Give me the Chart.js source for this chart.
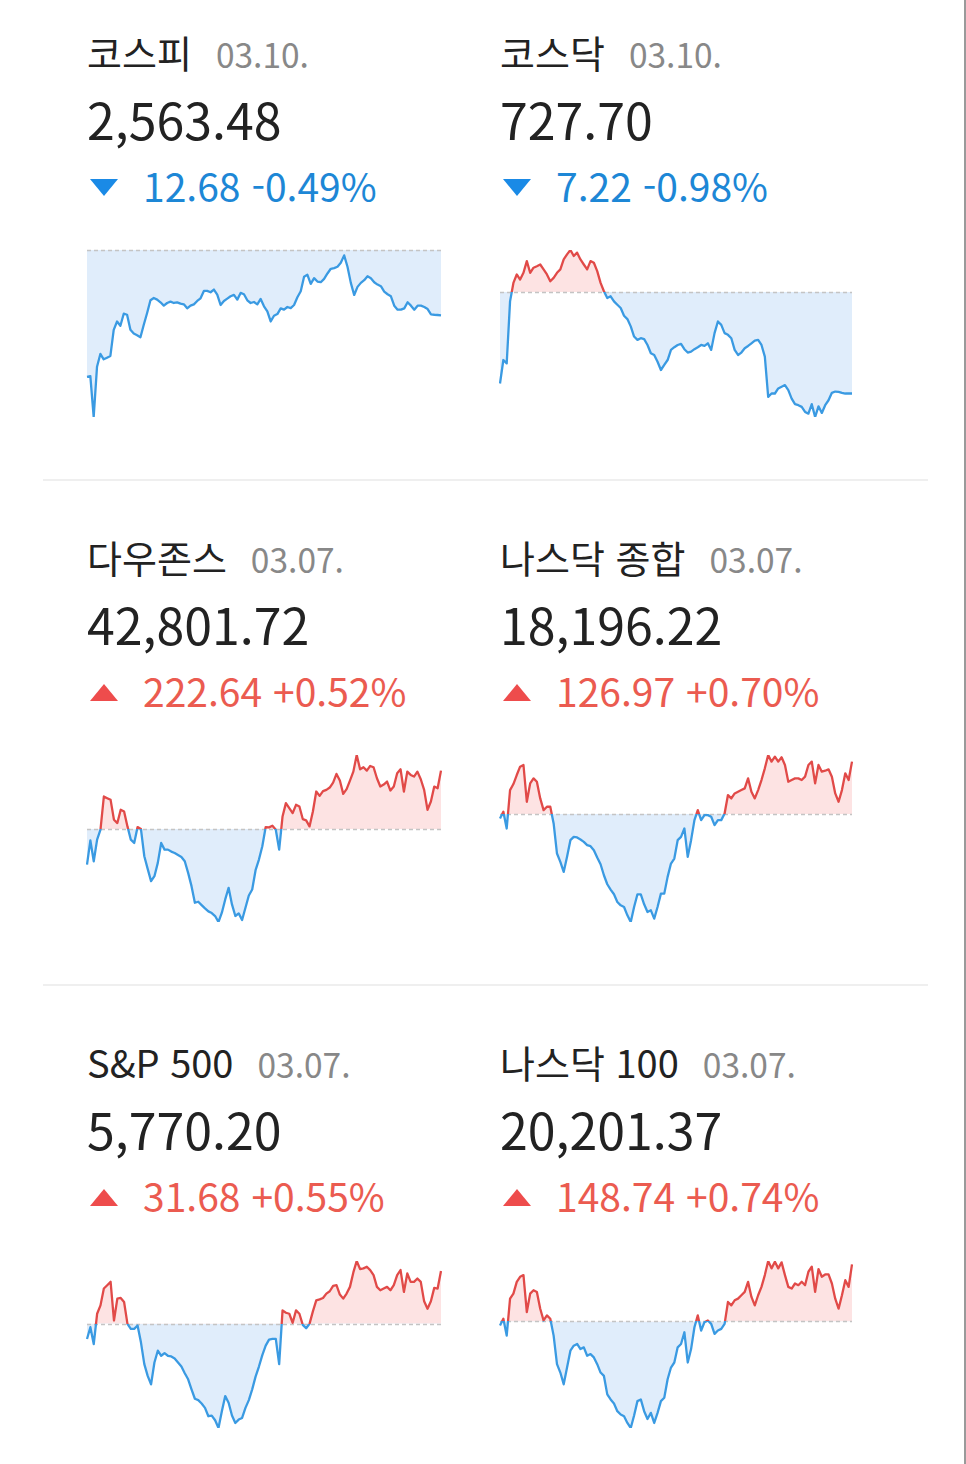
<!DOCTYPE html>
<html lang="ko">
<head>
<meta charset="utf-8">
<script src="https://cdn.jsdelivr.net/npm/chart.js@4.4.1/dist/chart.umd.min.js"></script>
<style>
html,body{margin:0;padding:0;background:#fff;}
body{width:966px;height:1464px;position:relative;overflow:hidden;font-family:"Noto Sans CJK KR","Noto Sans",sans-serif;}
.edge{position:absolute;left:964px;top:0;width:2px;height:1464px;background:#9a9a9a;}
.divider{position:absolute;left:43px;width:885px;height:2px;background:#efefef;}
.card{position:absolute;width:420px;height:200px;}
.title{position:absolute;left:0;top:0;white-space:nowrap;font-size:38px;line-height:38px;color:#222;}
.date{font-size:33.5px;color:#888;margin-left:24px;}
.value{position:absolute;left:0;top:60px;font-size:50px;line-height:50px;color:#222;white-space:nowrap;}
.change{position:absolute;left:56px;top:133px;font-size:39px;line-height:39px;white-space:nowrap;}
.down .change{color:#1d87d6;}
.up .change{color:#eb5b50;}
.tri{position:absolute;left:3px;top:146px;width:0;height:0;border-left:14px solid transparent;border-right:14px solid transparent;}
.down .tri{border-top:17px solid #1a8ae6;}
.up .tri{border-bottom:17px solid #ee4c4c;}
.chartbox{position:absolute;}
</style>
</head>
<body>
<div class="edge"></div>
<div class="divider" style="top:479px"></div>
<div class="divider" style="top:984px"></div>
<div id="root"></div>
<script>
// ---- text data ----
const names = ["코스피", "코스닥", "다우존스", "나스닥 종합", "S&P 500", "나스닥 100"];
const dates = ["03.10.", "03.10.", "03.07.", "03.07.", "03.07.", "03.07."];
const prices = ["2,563.48", "727.70", "42,801.72", "18,196.22", "5,770.20", "20,201.37"];
const changes = ["12.68", "7.22", "222.64", "126.97", "31.68", "148.74"];
const changePcts = ["-0.49%", "-0.98%", "+0.52%", "+0.70%", "+0.55%", "+0.74%"];
const directions = ["down", "down", "up", "up", "up", "up"];

// ---- intraday change vs previous close (points) ----
const kospiValues = [
-24.57,-24.44,-32.37,-22.62,-20.15,-21.19,-20.87,-20.54,-15.47,-13.85,
-14.69,-12.35,-12.55,-15.47,-16.19,-16.51,-16.90,-14.50,-12.22,-9.75,
-9.30,-9.62,-10.14,-10.79,-10.27,-10.01,-10.27,-10.14,-10.40,-10.53,
-11.31,-10.79,-10.53,-9.88,-9.36,-7.93,-7.93,-8.19,-7.67,-8.65,
-10.66,-9.88,-9.43,-8.97,-8.71,-9.62,-8.32,-8.58,-9.75,-10.27,
-10.08,-10.53,-9.49,-10.92,-11.90,-13.85,-12.74,-12.42,-11.31,-11.57,
-11.05,-11.25,-10.66,-9.17,-8.00,-5.20,-4.81,-6.57,-5.46,-6.11,
-6.24,-5.59,-4.55,-3.64,-3.51,-3.25,-2.47,-1.04,-3.25,-6.37,
-8.71,-7.15,-6.37,-5.85,-5.07,-5.46,-6.24,-6.70,-7.02,-8.06,
-8.58,-8.97,-10.79,-11.57,-11.57,-11.31,-10.14,-10.79,-11.57,-10.79,
-10.79,-11.05,-11.44,-12.48,-12.55,-12.60,-12.68];

const kosdaqValues = [
-6.51,-4.84,-5.08,-0.67,0.64,1.24,0.88,1.36,2.19,1.36,
1.72,1.83,1.95,1.60,1.24,0.76,1.00,1.36,1.60,2.31,
2.67,2.98,2.55,2.79,2.31,1.95,1.60,2.19,2.07,1.48,
0.64,0.05,-0.43,-0.31,-0.67,-0.91,-1.14,-1.69,-1.93,-2.45,
-3.17,-3.41,-3.29,-3.36,-3.77,-4.36,-4.48,-4.96,-5.55,-5.19,
-4.84,-4.12,-3.93,-3.77,-3.69,-4.07,-4.31,-4.24,-4.07,-3.93,
-3.77,-3.84,-3.65,-4.12,-2.93,-2.10,-2.34,-2.93,-3.05,-3.29,
-4.12,-4.48,-4.31,-4.00,-3.84,-3.65,-3.46,-3.41,-3.77,-4.60,
-7.46,-7.22,-7.22,-6.86,-6.74,-6.62,-6.98,-7.58,-7.98,-8.05,
-8.17,-8.53,-8.65,-7.98,-8.89,-8.13,-8.60,-8.05,-7.70,-7.17,
-7.08,-7.10,-7.17,-7.22,-7.22,-7.22];

const dowValues = [
-135.4,-43.0,-122.7,-40.5,-2.5,124.0,117.6,111.3,35.4,22.8,
73.4,67.0,10.1,-40.5,-53.1,7.6,0,-103.7,-151.8,-198.6,
-179.6,-129.0,-53.1,-78.4,-78.4,-86.0,-91.1,-98.7,-106.3,-122.7,
-167.0,-217.6,-280.8,-277.0,-289.7,-302.3,-313.7,-320.0,-331.4,-354.2,
-318.8,-268.2,-223.9,-287.2,-331.4,-321.3,-346.6,-299.8,-253.0,-230.2,
-156.9,-116.4,-65.8,7.6,6.3,12.7,-2.5,-78.4,48.1,98.7,
79.7,60.7,92.3,86.0,38.0,32.9,10.1,67.0,142.9,126.5,
144.2,149.3,158.1,177.1,210.0,184.7,134.1,151.8,184.7,218.8,
282.1,227.7,235.3,222.6,240.4,235.3,193.5,161.9,169.5,180.9,
146.7,161.9,212.5,227.7,142.9,218.8,206.2,199.9,218.8,189.8,
149.3,73.4,105.0,161.9,155.6,222.64];

const nasdaqValues = [
-10.5,5.7,-34.8,58.2,72.8,94.6,114.8,118.9,29.9,74.4,
86.5,78.4,38.0,9.7,17.8,17.8,-22.6,-95.4,-115.6,-139.9,
-103.5,-63.1,-55.0,-56.6,-61.5,-67.1,-75.2,-77.6,-87.3,-105.1,
-121.3,-148.0,-169.8,-182.8,-194.1,-212.7,-220.8,-224.8,-245.0,-261.2,
-224.8,-194.1,-194.1,-218.3,-236.9,-232.9,-253.1,-224.8,-192.5,-192.5,
-152.0,-119.7,-107.6,-63.1,-55.0,-34.8,-103.5,-63.1,-14.6,9.7,
-14.6,-2.4,-2.4,-6.5,-26.7,-14.6,-14.6,1.6,46.1,38.0,
50.1,54.2,58.2,62.3,86.5,54.2,38.0,58.2,82.5,110.8,
143.1,127.0,139.1,127.0,137.5,118.9,78.4,82.5,86.5,86.5,
82.5,90.6,118.9,127.0,74.4,118.9,102.7,105.1,108.4,90.6,
50.1,29.9,58.2,98.7,82.5,126.97];

const sp500Values = [
-9.08,-2.02,-12.11,6.05,11.10,21.19,23.21,25.23,2.02,15.14,
15.54,13.12,0,-3.03,-3.03,-1.01,-11.10,-24.22,-31.28,-36.32,
-23.21,-16.14,-19.17,-17.56,-19.17,-19.57,-20.79,-23.21,-25.63,-29.66,
-33.30,-39.35,-45.00,-45.81,-47.83,-50.45,-55.50,-55.09,-57.92,-62.56,
-52.47,-43.39,-47.42,-55.09,-59.53,-57.51,-56.50,-50.45,-45.81,-39.35,
-31.68,-25.63,-18.77,-13.12,-9.48,-9.08,-9.08,-24.22,8.07,6.66,
6.05,0.61,8.07,6.05,-0.61,-2.62,0,7.47,14.13,14.73,
15.54,18.16,19.57,22.80,23.21,17.56,15.14,18.16,22.20,30.88,
37.74,32.89,33.30,34.31,32.29,29.26,22.20,20.18,21.19,22.20,
20.18,23.21,29.26,32.29,19.17,30.27,25.23,25.23,27.24,25.23,
13.52,9.08,13.52,21.59,21.19,31.68];

const nasdaq100Values = [
-10.5,7.0,-36.8,59.5,72.6,103.3,116.4,120.8,24.5,72.6,
81.4,77.0,33.3,2.6,15.8,7.0,-36.8,-111.1,-133.0,-163.6,
-119.9,-76.1,-63.0,-58.6,-71.8,-67.4,-89.3,-84.9,-93.6,-111.1,
-133.0,-141.8,-189.9,-203.0,-213.5,-233.6,-242.4,-246.8,-264.3,-277.4,
-245.0,-207.4,-203.0,-233.6,-253.8,-238.0,-264.3,-238.0,-207.4,-198.6,
-150.5,-119.9,-106.8,-67.4,-58.6,-28.0,-106.8,-71.8,-14.9,15.8,
-23.6,-1.8,2.6,-6.1,-32.4,-23.6,-19.3,-6.1,50.8,42.0,
55.1,59.5,68.3,77.0,103.3,63.9,42.0,68.3,90.1,120.8,
157.5,138.3,155.8,138.3,154.0,120.8,90.1,85.8,98.9,94.5,
103.3,94.5,129.5,142.6,77.0,136.5,116.4,122.5,122.5,98.9,
59.5,33.3,68.3,107.6,90.1,148.74];

const seriesList = [kospiValues, kosdaqValues, dowValues, nasdaqValues, sp500Values, nasdaq100Values];

// ---- layout (styles only) ----
const colLeft = [87, 500];
const colChart = [[87, 354], [500, 352]];
const rowTop = [33, 538, 1043];
const rowChartTop = [250, 755, 1261];
const chartH = 167;
const PAD = 4;

const RED_LINE = '#e14a48', BLUE_LINE = '#3a9ae2';
const RED_FILL = '#fde3e3', BLUE_FILL = '#e0edfb';

const prevClosePlugin = {
  id: 'prevClose',
  beforeDatasetDraw(chart) {
    const {ctx, chartArea, scales} = chart;
    const py = Math.round(scales.y.getPixelForValue(0)) + 0.5;
    ctx.save();
    ctx.strokeStyle = '#c4c4c4';
    ctx.lineWidth = 1.5;
    ctx.setLineDash([4, 3]);
    ctx.beginPath();
    ctx.moveTo(chartArea.left, py);
    ctx.lineTo(chartArea.right, py);
    ctx.stroke();
    ctx.restore();
  }
};

function splitColor(context) {
  const chart = context.chart;
  const {ctx, chartArea, scales} = chart;
  if (!chartArea || !scales.y) return BLUE_LINE;
  const y0 = scales.y.getPixelForValue(0);
  const top = chartArea.top - 5, bottom = chartArea.bottom + 5;
  let f = (y0 - top) / (bottom - top);
  f = Math.max(0, Math.min(1, f));
  const g = ctx.createLinearGradient(0, top, 0, bottom);
  g.addColorStop(0, RED_LINE);
  g.addColorStop(f, RED_LINE);
  g.addColorStop(f, BLUE_LINE);
  g.addColorStop(1, BLUE_LINE);
  return g;
}

const root = document.getElementById('root');
const charts = [];
names.forEach((name, i) => {
  const col = i % 2, row = Math.floor(i / 2);
  const card = document.createElement('div');
  card.className = 'card ' + directions[i];
  card.style.left = colLeft[col] + 'px';
  card.style.top = rowTop[row] + 'px';
  card.innerHTML =
    '<div class="title">' + name.replace('&', '&amp;') + '<span class="date">' + dates[i] + '</span></div>' +
    '<div class="value">' + prices[i] + '</div>' +
    '<div class="tri"></div>' +
    '<div class="change">' + changes[i] + ' ' + changePcts[i] + '</div>';
  root.appendChild(card);

  const box = document.createElement('div');
  box.className = 'chartbox';
  const [cl, cw] = colChart[col];
  box.style.left = (cl - PAD) + 'px';
  box.style.top = (rowChartTop[row] - PAD) + 'px';
  box.style.width = (cw + 2 * PAD) + 'px';
  box.style.height = (chartH + 2 * PAD) + 'px';
  const canvas = document.createElement('canvas');
  box.appendChild(canvas);
  root.appendChild(box);

  const values = seriesList[i];
  const labels = values.map((_, k) => k);
  const ch = new Chart(canvas, {
    type: 'line',
    data: {
      labels: labels,
      datasets: [{
        label: name,
        data: values,
        borderColor: splitColor,
        borderWidth: 2.3,
        pointRadius: 0,
        tension: 0,
        borderJoinStyle: 'round',
        fill: { target: { value: 0 }, above: RED_FILL, below: BLUE_FILL }
      }]
    },
    options: {
      responsive: true,
      maintainAspectRatio: false,
      animation: false,
      events: [],
      layout: { padding: PAD },
      scales: {
        x: { type: 'category', display: false, offset: false, grid: { display: false } },
        y: { display: false, bounds: 'data', min: Math.min(0, ...values), max: Math.max(0, ...values), grid: { display: false } }
      },
      plugins: { legend: { display: false }, tooltip: { enabled: false } }
    },
    plugins: [prevClosePlugin]
  });
  charts.push(ch);
});
charts.forEach(c => c.update('none'));
</script>
</body>
</html>
